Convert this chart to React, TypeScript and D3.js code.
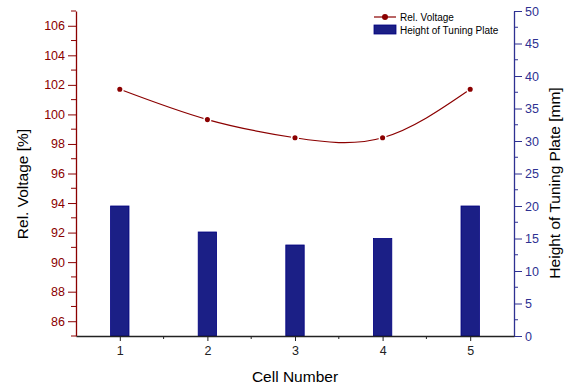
import React, { useEffect, useRef } from 'react';
import * as d3 from 'd3';

const cells = [1, 2, 3, 4, 5];
const relVoltage = [101.7, 99.65, 98.42, 98.42, 101.7];
const plateHeight = [20, 16, 14, 15, 20];
const voltTicks = [86, 88, 90, 92, 94, 96, 98, 100, 102, 104, 106];
const heightTicks = [0, 5, 10, 15, 20, 25, 30, 35, 40, 45, 50];

const RED = '#8b0000';
const BLUE = '#1b1f86';
const BLUE_AXIS = '#2e3192';
const FONT = '"Liberation Sans", Arial, sans-serif';

export default function App() {
  const ref = useRef<SVGSVGElement>(null);

  useEffect(() => {
    const svg = d3.select(ref.current);
    svg.selectAll('*').remove();

    const left = 76, right = 514, top = 11, bottom = 336;

    const x = d3.scaleLinear().domain([0.5, 5.5]).range([left, right]);
    const yL = d3.scaleLinear().domain([85, 107]).range([bottom, top]);
    const yR = d3.scaleLinear().domain([0, 50]).range([bottom, top]);

    // bars
    const bw = x(1.105) - x(0.895);
    svg.append('g').selectAll('rect')
      .data(cells)
      .enter().append('rect')
      .attr('x', (d) => x(d) - bw / 2)
      .attr('y', (d, i) => yR(plateHeight[i]))
      .attr('width', bw)
      .attr('height', (d, i) => bottom - yR(plateHeight[i]))
      .attr('fill', BLUE)
      .attr('stroke', '#000080')
      .attr('stroke-width', 0.8);

    // line
    const pts: [number, number][] = cells.map((c, i) => [x(c), yL(relVoltage[i])]);
    svg.append('path')
      .attr('d', d3.line().curve(d3.curveNatural)(pts))
      .attr('fill', 'none')
      .attr('stroke', RED)
      .attr('stroke-width', 1.2);
    svg.append('g').selectAll('circle')
      .data(pts)
      .enter().append('circle')
      .attr('cx', (d) => d[0])
      .attr('cy', (d) => d[1])
      .attr('r', 3.3)
      .attr('fill', RED)
      .attr('stroke', '#fff')
      .attr('stroke-width', 1.5);

    // left axis
    const gL = svg.append('g').attr('transform', `translate(${left},0)`);
    gL.call(d3.axisLeft(yL).tickValues(voltTicks).tickSize(8).tickSizeOuter(0).tickPadding(3));
    gL.selectAll('line.minor')
      .data(d3.range(85, 107.01, 1).filter((v) => v % 2 !== 0))
      .enter().append('line')
      .attr('x1', -5).attr('x2', 0)
      .attr('y1', (d) => yL(d)).attr('y2', (d) => yL(d))
      .attr('stroke', RED);
    gL.selectAll('path.domain').attr('stroke', RED).attr('stroke-width', 1.3);
    gL.selectAll('.tick line').attr('stroke', RED);
    gL.selectAll('.tick text').attr('fill', RED).attr('font-size', 12.5).attr('font-family', FONT);

    // right axis
    const gR = svg.append('g').attr('transform', `translate(${right},0)`);
    gR.call(d3.axisRight(yR).tickValues(heightTicks).tickSize(8).tickSizeOuter(0).tickPadding(3));
    gR.selectAll('line.minor')
      .data(d3.range(2.5, 50, 5))
      .enter().append('line')
      .attr('x1', 0).attr('x2', 4)
      .attr('y1', (d) => yR(d)).attr('y2', (d) => yR(d))
      .attr('stroke', BLUE_AXIS);
    gR.selectAll('path.domain').attr('stroke', BLUE_AXIS).attr('stroke-width', 1.3);
    gR.selectAll('.tick line').attr('stroke', BLUE_AXIS);
    gR.selectAll('.tick text').attr('fill', BLUE_AXIS).attr('font-size', 12.5).attr('font-family', FONT);

    // bottom axis
    const gB = svg.append('g').attr('transform', `translate(0,${bottom})`);
    gB.call(d3.axisBottom(x).tickValues(cells).tickFormat(d3.format('d')).tickSize(5).tickSizeOuter(0).tickPadding(5));
    gB.selectAll('line.minor')
      .data(d3.range(1.5, 5.5, 1))
      .enter().append('line')
      .attr('y1', 0).attr('y2', 3)
      .attr('x1', (d) => x(d)).attr('x2', (d) => x(d))
      .attr('stroke', '#222');
    gB.selectAll('path.domain').attr('stroke', '#222').attr('stroke-width', 1.3);
    gB.selectAll('.tick line').attr('stroke', '#222');
    gB.selectAll('.tick text').attr('fill', '#222').attr('font-size', 12.5).attr('font-family', FONT);

    // axis titles
    svg.append('text')
      .attr('transform', 'translate(28,184) rotate(-90)')
      .attr('text-anchor', 'middle')
      .attr('font-family', FONT).attr('font-size', 15.5)
      .text('Rel. Voltage [%]');
    svg.append('text')
      .attr('transform', 'translate(560,183) rotate(-90)')
      .attr('text-anchor', 'middle')
      .attr('font-family', FONT).attr('font-size', 15.5)
      .text('Height of Tuning Plate [mm]');
    svg.append('text')
      .attr('x', (left + right) / 2).attr('y', 382)
      .attr('text-anchor', 'middle')
      .attr('font-family', FONT).attr('font-size', 15.5)
      .text('Cell Number');

    // legend
    const lg = svg.append('g');
    lg.append('line').attr('x1', 374).attr('x2', 396).attr('y1', 17).attr('y2', 17)
      .attr('stroke', RED).attr('stroke-width', 1.2);
    lg.append('circle').attr('cx', 385).attr('cy', 17).attr('r', 3).attr('fill', RED);
    lg.append('text').attr('x', 400).attr('y', 21)
      .attr('font-family', FONT).attr('font-size', 10).text('Rel. Voltage');
    lg.append('rect').attr('x', 374).attr('y', 25).attr('width', 22).attr('height', 9)
      .attr('fill', BLUE).attr('stroke', '#000080').attr('stroke-width', 0.8);
    lg.append('text').attr('x', 400).attr('y', 33.5)
      .attr('font-family', FONT).attr('font-size', 10).text('Height of Tuning Plate');
  }, []);

  return (
    <svg
      ref={ref}
      width={569}
      height={388}
      style={{ position: 'absolute', left: 0, top: 0, display: 'block', background: '#fff' }}
    />
  );
}
